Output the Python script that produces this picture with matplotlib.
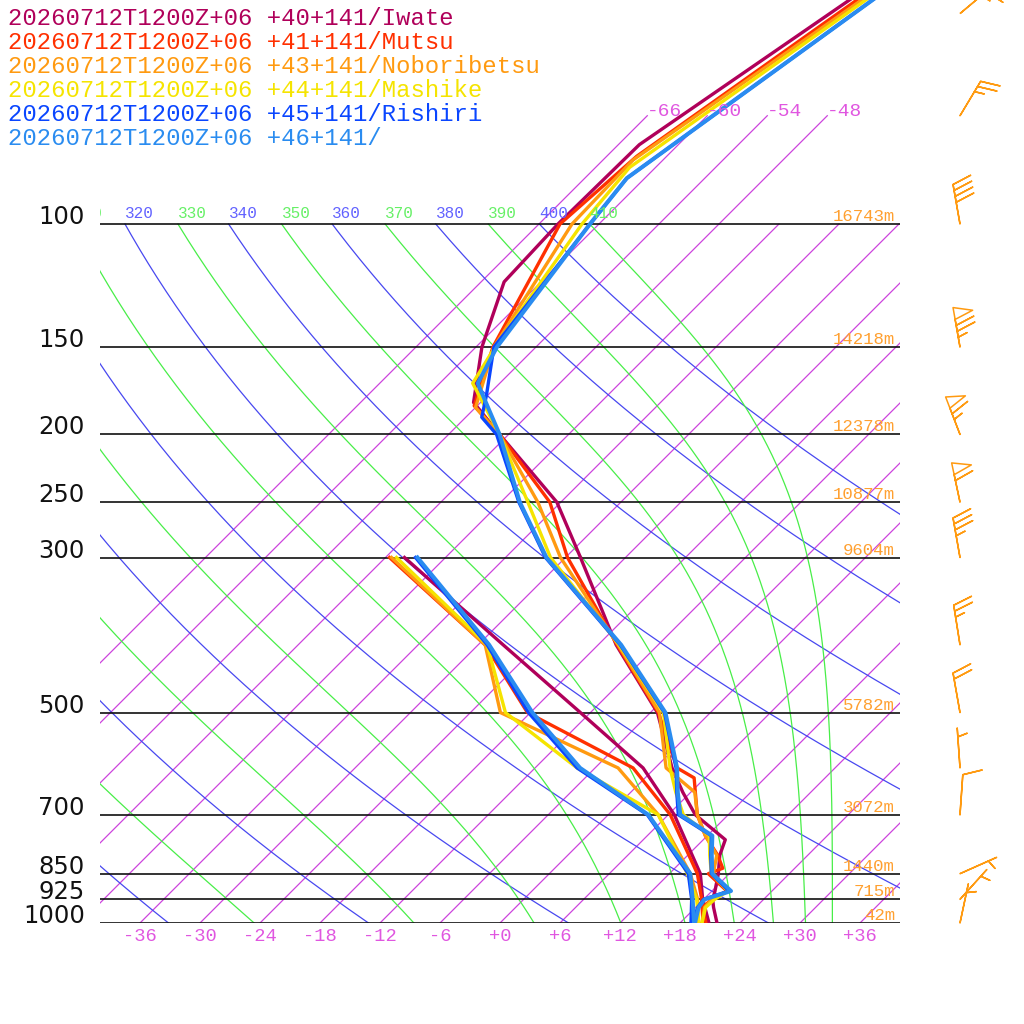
import numpy as np
import matplotlib
matplotlib.use("Agg")
import matplotlib.pyplot as plt
from matplotlib.transforms import Affine2D, blended_transform_factory, offset_copy
from matplotlib.patches import Rectangle

# ---------------- data ----------------
valid_time = "20260712T1200Z+06"
station_names = ["Iwate", "Mutsu", "Noboribetsu", "Mashike", "Rishiri", ""]
station_lat = [40, 41, 43, 44, 45, 46]
station_lon = [141, 141, 141, 141, 141, 141]
station_colors = ["#b0005a", "#ff3000", "#ff9a10", "#f5e400", "#0a46ff", "#2a8cf0"]

# temperature profiles (hPa, degC)
iwate_tp = [1000, 950, 925, 900, 850, 800, 760, 700, 650, 600, 500, 400, 300, 250, 200, 180, 150, 121, 100, 77, 40]
iwate_t = [21.7, 19.8, 18.9, 18.3, 16.9, 15.2, 14.2, 8.7, 5.2, 1.7, -5.3, -16.2, -28.5, -36.4, -48.9, -54.7, -59.4, -63.7, -64.1, -63.9, -54.9]
mutsu_tp = [1000, 950, 925, 900, 850, 835, 800, 750, 700, 620, 600, 500, 400, 300, 250, 200, 182, 150, 100, 80, 40]
mutsu_t = [20.6, 18.7, 18.8, 19.5, 15.9, 16.8, 15.0, 11.8, 8.9, 4.9, 2.2, -5.2, -16.1, -29.8, -37.1, -48.9, -54.3, -58.3, -63.9, -63.0, -54.4]
nobori_tp = [1000, 950, 925, 900, 850, 800, 750, 700, 650, 600, 500, 400, 300, 250, 200, 183, 150, 100, 81, 40]
nobori_t = [20.2, 18.9, 18.8, 19.6, 16.4, 14.9, 11.8, 8.9, 6.4, 1.1, -5.1, -16.0, -30.5, -38.3, -48.9, -54.0, -58.2, -62.7, -63.0, -53.8]
mashike_tp = [1000, 950, 925, 900, 850, 800, 750, 700, 650, 600, 500, 400, 300, 250, 200, 169, 150, 100, 83, 40]
mashike_t = [20.2, 19.0, 19.1, 19.6, 16.2, 14.2, 12.2, 7.5, 4.5, 1.5, -4.7, -15.9, -31.5, -39.3, -48.9, -56.7, -58.1, -61.7, -62.6, -53.5]
rishiri_tp = [1000, 950, 925, 900, 850, 800, 750, 700, 650, 600, 500, 400, 300, 250, 200, 189, 176, 150, 100, 86, 40]
rishiri_t = [19.3, 18.2, 18.0, 19.7, 16.2, 14.3, 12.4, 7.0, 4.6, 2.1, -4.6, -15.8, -32.0, -40.2, -49.2, -52.4, -54.1, -58.2, -60.9, -61.8, -53.0]
p46_tp = [1000, 950, 925, 900, 850, 800, 750, 700, 650, 600, 500, 400, 300, 250, 200, 169, 150, 100, 86, 40]
p46_t = [19.5, 18.3, 18.1, 19.9, 16.3, 14.4, 12.5, 7.2, 4.7, 2.2, -4.5, -15.7, -31.9, -40.1, -48.9, -56.2, -57.9, -60.9, -61.8, -53.0]

# dew point profiles (hPa, degC)
td_p = [1000, 925, 850, 700, 600, 500, 400, 300]
iwate_td = [20.9, 17.9, 15.1, 6.6, -1.2, -13.0, -27.5, -46.1]
mutsu_td = [20.3, 17.8, 14.8, 6.2, -2.2, -18.3, -29.3, -47.6]
nobori_td = [19.8, 17.4, 14.1, 5.0, -3.7, -21.0, -29.3, -47.4]
mashike_td = [19.9, 17.3, 13.8, 5.0, -7.8, -20.5, -29.1, -46.9]
rishiri_td = [19.1, 16.8, 13.9, 3.9, -7.8, -18.2, -29.1, -45.0]
p46_td = [19.4, 16.9, 14.1, 4.0, -7.5, -17.8, -28.9, -44.8]

# geopotential heights of standard levels
height_p = [100, 150, 200, 250, 300, 500, 700, 850, 925, 1000]
height_m = [16743, 14218, 12378, 10877, 9604, 5782, 3072, 1440, 715, 42]

# winds
wind_p = [1000, 925, 850, 700, 600, 500, 400, 300, 250, 200, 150, 100, 70, 50]
wind_dir = [12, 42, 66, 4, 356, 350, 351, 350, 348, 339, 350, 350, 31, 50]
wind_kt = [5, 5, 5, 10, 5, 20, 25, 35, 60, 65, 75, 40, 25, 25]

isobar_p = [100, 150, 200, 250, 300, 500, 700, 850, 925, 1000]
isotherm_t = list(range(-66, 37, 6))
top_isotherm_t = [-66, -60, -54, -48]
dry_theta = list(range(240, 401, 20))
moist_thetae = list(range(250, 411, 20))

# ---------------- styles ----------------
ISO_C = "#cc44dd"
ISO_LBL = "#e056e0"
DRY_C = "#4848f0"
DRY_LBL = "#6262ff"
MOIST_C = "#48ee48"
MOIST_LBL = "#66f066"
HGT_C = "#ffa030"
BARB_C = "#ff9a10"
MONO = "Liberation Mono"

fig = plt.figure(figsize=(10.24, 10.24), dpi=100)
ax = fig.add_axes([100 / 1024, (1024 - 923) / 1024, 800 / 1024, 923 / 1024])
p_top = 1000.0 / 10 ** (923 / 699)
ax.set_xlim(-40, 40)
ax.set_yscale("log")
ax.set_ylim(1000, p_top)
ax.set_autoscale_on(False)
ax.axis("off")

shear = np.arctan(ax.bbox.height / ax.bbox.width)
skew = ax.transScale + (ax.transLimits + Affine2D().skew(shear, 0)) + ax.transAxes
blend = blended_transform_factory(ax.transAxes, ax.transData)
f100 = np.log10(1000 / 100) / np.log10(1000 / p_top)
grid_clip = Rectangle((0, 0), 1, f100, transform=ax.transAxes, facecolor="none", edgecolor="none")


def es(tc):
    return 6.112 * np.exp(17.67 * tc / (tc + 243.5))


def theta_e(tc, p):
    tk = tc + 273.15
    e = es(tc)
    r = 622.0 * e / (p - e)
    return tk * (1000.0 / p) ** (0.2854 * (1 - 0.00028 * r)) * np.exp((3.376 / tk - 0.00254) * r * (1 + 0.00081 * r))


def moist_T(the, p):
    lo = np.full_like(p, -140.0)
    hi = np.full_like(p, 40.0)
    for _ in range(60):
        mid = 0.5 * (lo + hi)
        f = theta_e(mid, p) - the
        hi = np.where(f > 0, mid, hi)
        lo = np.where(f > 0, lo, mid)
    return 0.5 * (lo + hi)


def label_visible(t100):
    # keep only labels whose text can reach into the plot box
    xd = skew.transform((t100, 100.0))[0]
    return xd > ax.bbox.x0 - 30


pp = np.geomspace(1000, 100, 300)

# isotherms
for t in isotherm_t:
    ax.plot([t, t], [1000, 100], transform=skew, color=ISO_C, lw=0.9, clip_path=grid_clip)
for t in top_isotherm_t:
    ax.plot([t, t], [100, 70], transform=skew, color=ISO_C, lw=0.9)
    ax.text(t, 70, f"{t:d}", transform=skew, ha="left", va="baseline", color=ISO_LBL,
            fontsize=14, family=MONO)

# dry adiabats
lbl_tr = offset_copy(skew, fig=fig, x=0, y=6, units="dots")
for th in dry_theta:
    tt = th * (pp / 1000.0) ** 0.2857 - 273.15
    ax.plot(tt, pp, transform=skew, color=DRY_C, lw=0.9, clip_path=grid_clip)
    if label_visible(tt[-1]):
        ax.text(tt[-1], 100, str(th), transform=lbl_tr, ha="left", va="baseline", color=DRY_LBL,
                fontsize=11.5, family=MONO, clip_on=True)

# moist adiabats
for the in moist_thetae:
    tt = moist_T(float(the), pp)
    ax.plot(tt, pp, transform=skew, color=MOIST_C, lw=0.9, clip_path=grid_clip)
    if label_visible(tt[-1]):
        ax.text(tt[-1], 100, str(the), transform=lbl_tr, ha="left", va="baseline", color=MOIST_LBL,
                fontsize=11.5, family=MONO, clip_on=True)

# isobars
for p in isobar_p:
    ax.plot([0, 1], [p, p], transform=blend, color="#111111", lw=1.2)
    ax.text(-15 / 800, p, str(p), transform=blend, ha="right", va="baseline",
            fontsize=17.5, family="DejaVu Sans", color="#111111")

# heights
h_tr = offset_copy(blend, fig=fig, x=0, y=3, units="dots")
for p, h in zip(height_p, height_m):
    ax.text(795 / 800, p, f"{h}m", transform=h_tr, ha="right", va="baseline",
            fontsize=12.5, family=MONO, color=HGT_C)

# temperature labels at bottom
b_tr = offset_copy(skew, fig=fig, x=0, y=-13, units="dots")
for t in range(-36, 37, 6):
    ax.text(t, 1000, f"{t:+d}", transform=b_tr, ha="center", va="center",
            fontsize=13.5, family=MONO, color=ISO_LBL)

# profiles
temp_p = [iwate_tp, mutsu_tp, nobori_tp, mashike_tp, rishiri_tp, p46_tp]
temp_t = [iwate_t, mutsu_t, nobori_t, mashike_t, rishiri_t, p46_t]
dew_t = [iwate_td, mutsu_td, nobori_td, mashike_td, rishiri_td, p46_td]
for i in range(len(station_names)):
    lw = 2.9 if i == 5 else 2.4
    ax.plot(dew_t[i], td_p, transform=skew, color=station_colors[i], lw=lw)
    ax.plot(temp_t[i], temp_p[i], transform=skew, color=station_colors[i], lw=lw)

# wind barbs
wd = np.deg2rad(np.array(wind_dir, dtype=float))
ws = np.array(wind_kt, dtype=float)
u = -ws * np.sin(wd)
v = -ws * np.cos(wd)
ax.barbs(np.full(len(wind_p), 860 / 800), wind_p, u, v, transform=blend, length=7.6,
         linewidth=1.1, barbcolor=BARB_C, flagcolor="none", clip_on=False,
         sizes=dict(height=0.47, width=0.3, spacing=0.15))

# legend
for i, name in enumerate(station_names):
    fig.text(8 / 1024, 1 - (25 + 24 * i) / 1024,
             f"{valid_time} +{station_lat[i]}+{station_lon[i]}/{name}",
             ha="left", va="baseline", fontsize=17.2, family=MONO, color=station_colors[i])

fig.savefig("out.png", dpi=100)
